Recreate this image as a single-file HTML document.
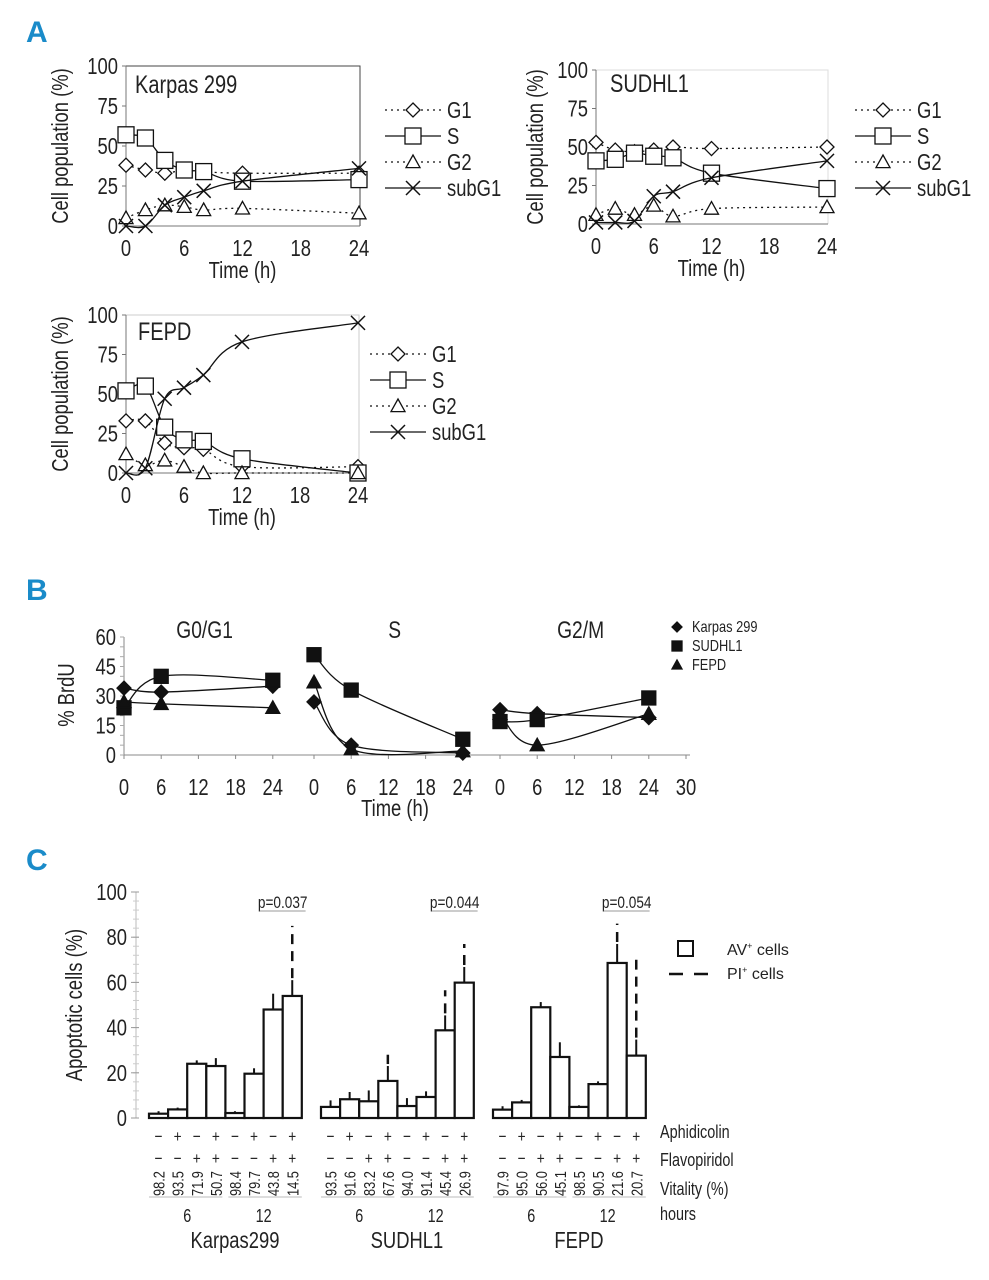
<!DOCTYPE html>
<html><head><meta charset="utf-8">
<style>
html,body{margin:0;padding:0;background:#fff;}
svg{display:block;font-family:"Liberation Sans Narrow","Liberation Sans",sans-serif;}
</style></head>
<body>
<svg id="fig" width="989" height="1280" viewBox="0 0 989 1280" xmlns="http://www.w3.org/2000/svg">
<g font-weight="bold" fill="#1a8bc9" font-size="30" font-family="Liberation Sans Narrow,Liberation Sans,sans-serif">
<text x="26" y="42">A</text>
<text x="26" y="600">B</text>
<text x="26" y="870">C</text>
</g>
<g id="gA"></g><g id="gB"></g><g id="gC"></g>
</svg>
<script>
// ---------- Panel A data ----------
const timeA=[0,2,4,6,8,12,24];
const tickA=[0,6,12,18,24];
const ytickA=[0,25,50,75,100];
const karpasG1=[38,35,33,35,34,33,33];
const karpasS=[57,55,41,35,34,28,29];
const karpasG2=[5,10,13,12,10,11,8];
const karpasSub=[0,0,13,18,22,28,36];
const sudG1=[53,48,47,48,50,49,50];
const sudS=[41,42,46,44,43,33,23];
const sudG2=[6,10,6,12,5,10,11];
const sudSub=[1,1,2,18,21,30,41];
const fepdG1=[33,33,19,16,15,4,4];
const fepdS=[52,55,29,21,20,9,0];
const fepdG2=[12,5,8,4,0,0,0];
const fepdSub=[0,3,47,54,62,83,95];
// ---------- Panel B data ----------
const timeB=[0,6,24];
const phasesB=['G0/G1','S','G2/M'];
const yticksB=[0,15,30,45,60];
const karpasB=[[34,32,35],[27,5,1],[23,21,19]];
const sudhlB=[[24,40,38],[51,33,8],[17,18,29]];
const fepdB=[[27,26,24],[37,3,2],[21,5,21]];
// ---------- Panel C data ----------
const groupsC=['Karpas299','SUDHL1','FEPD'];
const yticksC=[0,20,40,60,80,100];
const avKarpas=[1.9,3.8,24,23,2.2,19.6,48,54];
const avSud=[4.9,8.3,7.4,16.4,5.3,9.3,38.8,59.9];
const avFepd=[3.7,6.9,49,27,4.9,15,68.6,27.6];
const errKarpas=[3,4.6,25.5,26.5,3,22,55,61];
const errSud=[7.8,11.5,12.2,23,8.8,11.8,45.4,66.8];
const errFepd=[5.2,8,51.3,33.5,5.6,16.2,77,34.7];
const piKarpas=[null,null,null,null,null,null,null,85];
const piSud=[null,null,null,28,null,null,56.5,77];
const piFepd=[null,null,null,null,null,null,86,70];
const vitKarpas=['98.2','93.5','71.9','50.7','98.4','79.7','43.8','14.5'];
const vitSud=['93.5','91.6','83.2','67.6','94.0','91.4','45.4','26.9'];
const vitFepd=['97.9','95.0','56.0','45.1','98.5','90.5','21.6','20.7'];
const aphid=['−','+','−','+','−','+','−','+'];
const flavo=['−','−','+','+','−','−','+','+'];
const pvals=['p=0.037','p=0.044','p=0.054'];

const NS='http://www.w3.org/2000/svg';
function mk(parent,tag,attrs,text){const e=document.createElementNS(NS,tag);for(const k in attrs)e.setAttribute(k,attrs[k]);if(text!==undefined)e.textContent=text;parent.appendChild(e);return e;}
function smooth(p){if(p.length<2)return '';let d='M'+p[0][0]+','+p[0][1];for(let i=0;i<p.length-1;i++){const p0=p[i-1]||p[i],p1=p[i],p2=p[i+1],p3=p[i+2]||p2;const c1=[p1[0]+(p2[0]-p0[0])/6,p1[1]+(p2[1]-p0[1])/6];const c2=[p2[0]-(p3[0]-p1[0])/6,p2[1]-(p3[1]-p1[1])/6];d+=' C'+c1+' '+c2+' '+p2;}return d;}
function marker(g,type,x,y,filled,s){
  const f=filled?'#111':'#fff';let e;
  if(type==='diamond'){e=mk(g,'path',{d:`M${x},${y-s} L${x+s},${y} L${x},${y+s} L${x-s},${y} Z`,fill:f,stroke:'#111','stroke-width':1.3});}
  else if(type==='square'){e=mk(g,'rect',{x:x-s,y:y-s,width:2*s,height:2*s,fill:f,stroke:'#111','stroke-width':1.3});}
  else if(type==='triangle'){e=mk(g,'path',{d:`M${x},${y-s} L${x+s},${y+s*0.8} L${x-s},${y+s*0.8} Z`,fill:f,stroke:'#111','stroke-width':1.3});}
  else {e=mk(g,'path',{d:`M${x-s},${y-s} L${x+s},${y+s} M${x+s},${y-s} L${x-s},${y+s}`,stroke:'#111','stroke-width':1.5,fill:'none'});}
  return e;
}

// ---------- Panel A ----------
const gA=document.getElementById('gA');
function chartA(cfg){
  const g=mk(gA,'g',{});
  
  
  const X=t=>cfg.x0+(cfg.x24-cfg.x0)*t/24;
  const Y=v=>cfg.y0-(cfg.y0-cfg.y100)*v/100;
  mk(g,'path',{d:`M${cfg.x0},${cfg.y100} L${cfg.x24+1},${cfg.y100} L${cfg.x24+1},${cfg.y0}`,fill:'none',stroke:cfg.frame,'stroke-width':1});
  mk(g,'line',{x1:cfg.x0,y1:cfg.y100,x2:cfg.x0,y2:cfg.y0,stroke:'#777','stroke-width':1});
  mk(g,'line',{x1:cfg.x0,y1:cfg.y0,x2:cfg.x24+1,y2:cfg.y0,stroke:'#777','stroke-width':1});
  ytickA.forEach(v=>{const t=mk(g,'text',{x:cfg.x0-8,y:Y(v)+8,'text-anchor':'end','font-size':23,fill:'#222'},v);
    
    mk(g,'line',{x1:cfg.x0-4,x2:cfg.x0,y1:Y(v),y2:Y(v),stroke:'#777'});});
  tickA.forEach(v=>{const t=mk(g,'text',{x:X(v),y:cfg.y0+30,'text-anchor':'middle','font-size':23,fill:'#222'},v);
    });
  const xt=mk(g,'text',{x:(cfg.x0+cfg.x24)/2,y:cfg.y0+52,'text-anchor':'middle','font-size':23,fill:'#222'},'Time (h)');
  
  const cy=(cfg.y0+cfg.y100)/2;
  const yt=mk(g,'text',{x:cfg.ylx,y:cy,'text-anchor':'middle','font-size':23,fill:'#222',transform:`rotate(-90 ${cfg.ylx} ${cy})`},'Cell population (%)');
  
  const tt=mk(g,'text',{x:cfg.tx,y:cfg.ty,'font-size':25,fill:'#222'},cfg.title);
  
  const series=[['G1',cfg.g1,'diamond','2,4'],['S',cfg.s,'square',''],['G2',cfg.g2,'triangle','2,4'],['subG1',cfg.sub,'x','']];
  series.forEach((sr,i)=>{
    const sg=mk(g,'g',{});
    
    
    const pts=timeA.map((t,j)=>[X(t),Y(sr[1][j])]);
    mk(sg,'path',{d:smooth(pts),fill:'none',stroke:'#111','stroke-width':1.3,'stroke-dasharray':sr[3]});
    pts.forEach(p=>marker(sg,sr[2],p[0],p[1],false,sr[2]==='square'?8:7));
    const lg=mk(g,'g',{});
    
    
    const ly=cfg.ly+i*26;
    mk(lg,'line',{x1:cfg.lx,x2:cfg.lx+56,y1:ly,y2:ly,stroke:'#111','stroke-width':1.3,'stroke-dasharray':sr[3]});
    marker(lg,sr[2],cfg.lx+28,ly,false,sr[2]==='square'?8:7);
    mk(lg,'text',{x:cfg.lx+62,y:ly+8,'font-size':23,fill:'#222'},sr[0]);
  });
}
chartA({name:'karpas299',x0:126,x24:359,y0:226,y100:66,frame:'#444',ylx:68,tx:135,ty:93,title:'Karpas 299',g1:karpasG1,s:karpasS,g2:karpasG2,sub:karpasSub,lx:385,ly:110});
chartA({name:'sudhl1',x0:596,x24:827,y0:224,y100:70,frame:'#ddd',ylx:543,tx:610,ty:92,title:'SUDHL1',g1:sudG1,s:sudS,g2:sudG2,sub:sudSub,lx:855,ly:110});
chartA({name:'fepd',x0:126,x24:358,y0:473,y100:315,frame:'#ccc',ylx:68,tx:138,ty:340,title:'FEPD',g1:fepdG1,s:fepdS,g2:fepdG2,sub:fepdSub,lx:370,ly:354});

// ---------- Panel B ----------
const gB=document.getElementById('gB');
(function(){
  const y0=755,y60=637,starts=[124,314,500],k=6.2;
  const Y=v=>y0-(y0-y60)*v/60;
  const g=mk(gB,'g',{});
  
  
  mk(g,'line',{x1:124,x2:124,y1:y60,y2:y0,stroke:'#888'});
  mk(g,'line',{x1:124,x2:690,y1:y0,y2:y0,stroke:'#888'});
  for(let v=0;v<=60;v+=5)mk(g,'line',{x1:120,x2:124,y1:Y(v),y2:Y(v),stroke:'#aaa'});
  yticksB.forEach(v=>{const t=mk(g,'text',{x:116,y:Y(v)+8,'text-anchor':'end','font-size':23,fill:'#222'},v);
    });
  const xticks=[[0,6,12,18,24],[0,6,12,18,24],[0,6,12,18,24,30]];
  starts.forEach((s,i)=>{xticks[i].forEach(v=>{const x=s+k*v;mk(g,'line',{x1:x,x2:x,y1:y0,y2:y0+4,stroke:'#888'});
    const t=mk(g,'text',{x:x,y:795,'text-anchor':'middle','font-size':23,fill:'#222'},v);
    });
    const pt=mk(g,'text',{x:s+k*13,y:638,'text-anchor':'middle','font-size':24,fill:'#222'},phasesB[i]);
    });
  const yl=mk(g,'text',{x:74,y:695,'text-anchor':'middle','font-size':23,fill:'#222',transform:'rotate(-90 74 695)'},'% BrdU');
  
  const xl=mk(g,'text',{x:395,y:816,'text-anchor':'middle','font-size':23,fill:'#222'},'Time (h)');
  
  const ser=[['karpas-299',karpasB,'diamond'],['sudhl1',sudhlB,'square'],['fepd',fepdB,'triangle']];
  ser.forEach(sr=>{
    const sg=mk(g,'g',{});
    
    
    starts.forEach((s,i)=>{const pts=timeB.map((t,j)=>[s+k*t,Y(sr[1][i][j])]);
      mk(sg,'path',{d:smooth(pts),fill:'none',stroke:'#111','stroke-width':1.3});
      pts.forEach(p=>marker(sg,sr[2],p[0],p[1],true,7));});
  });
  const names=['Karpas 299','SUDHL1','FEPD'];
  ser.forEach((sr,i)=>{const lg=mk(g,'g',{});
    
    
    const y=627+i*19;marker(lg,sr[2],677,y,true,5);
    mk(lg,'text',{x:692,y:y+5,'font-size':16,fill:'#222'},names[i]);});
})();

// ---------- Panel C ----------
const gC=document.getElementById('gC');
(function(){
  const y0=1118,y100=892;const Y=v=>y0-(y0-y100)*v/100;
  const g=mk(gC,'g',{});
  
  
  mk(g,'line',{x1:136,x2:136,y1:y100,y2:y0,stroke:'#bbb'});
  for(let v=0;v<=100;v+=4)mk(g,'line',{x1:133,x2:139,y1:Y(v),y2:Y(v),stroke:'#ccc'});
  yticksC.forEach(v=>{mk(g,'line',{x1:131,x2:139,y1:Y(v),y2:Y(v),stroke:'#999'});
    const t=mk(g,'text',{x:127,y:Y(v)+8,'text-anchor':'end','font-size':23,fill:'#222'},v);
    });
  const yl=mk(g,'text',{x:82,y:1005,'text-anchor':'middle','font-size':23,fill:'#222',transform:'rotate(-90 82 1005)'},'Apoptotic cells (%)');
  
  const starts=[149,321,493],w=19.1;
  const av=[avKarpas,avSud,avFepd],er=[errKarpas,errSud,errFepd],pi=[piKarpas,piSud,piFepd],vit=[vitKarpas,vitSud,vitFepd];
  groupsC.forEach((name,gi)=>{
    const s=starts[gi];
    const gg=mk(g,'g',{});
    
    
    av[gi].forEach((v,i)=>{
      const x=s+i*w,cx=x+w/2;
      const b=mk(gg,'rect',{x:x,y:Y(v),width:w,height:y0-Y(v),fill:'#fff',stroke:'#111','stroke-width':2.2});
      
      mk(gg,'line',{x1:cx,x2:cx,y1:Y(v),y2:Y(er[gi][i]),stroke:'#111','stroke-width':2});
      if(pi[gi][i]!==null){const pl=mk(gg,'line',{x1:cx,x2:cx,y1:Y(er[gi][i])-2,y2:Y(pi[gi][i]),stroke:'#111','stroke-width':2.5,'stroke-dasharray':'10,7'});
        }
      mk(gg,'text',{x:cx,y:1142,'text-anchor':'middle','font-size':17,fill:'#222'},aphid[i]);
      mk(gg,'text',{x:cx,y:1164,'text-anchor':'middle','font-size':17,fill:'#222'},flavo[i]);
      mk(gg,'text',{x:cx+6,y:1196,'font-size':16,fill:'#222',transform:`rotate(-90 ${cx+6} 1196)`},vit[gi][i]);
    });
    mk(gg,'line',{x1:s,x2:s+4*w-3,y1:1197,y2:1197,stroke:'#bbb'});
    mk(gg,'line',{x1:s+4*w+3,x2:s+8*w,y1:1197,y2:1197,stroke:'#bbb'});
    mk(gg,'text',{x:s+2*w,y:1222,'text-anchor':'middle','font-size':18,fill:'#222'},'6');
    mk(gg,'text',{x:s+6*w,y:1222,'text-anchor':'middle','font-size':18,fill:'#222'},'12');
    const lab=mk(gg,'text',{x:s+4.5*w,y:1248,'text-anchor':'middle','font-size':23,fill:'#222'},name);
    
    const pv=mk(gg,'text',{x:s+7*w,y:908,'text-anchor':'middle','font-size':17,fill:'#222'},pvals[gi]);
    
    mk(gg,'line',{x1:s+5.8*w,x2:s+8.2*w,y1:911,y2:911,stroke:'#999'});
  });
  const rl=[['Aphidicolin',1138],['Flavopiridol',1166],['Vitality (%)',1195],['hours',1220]];
  rl.forEach(r=>{const t=mk(g,'text',{x:660,y:r[1],'font-size':18,fill:'#222'},r[0]);
    });
  const l1=mk(g,'g',{});
  
  mk(l1,'rect',{x:678,y:941,width:15,height:15,fill:'#fff',stroke:'#111','stroke-width':2});
  const t1=mk(l1,'text',{x:727,y:955,'font-size':16,fill:'#222'},'AV');
  mk(t1,'tspan',{'font-size':9,dy:-6},'+');mk(t1,'tspan',{dy:6},' cells');
  const l2=mk(g,'g',{});
  
  mk(l2,'line',{x1:669,x2:708,y1:974,y2:974,stroke:'#111','stroke-width':2.5,'stroke-dasharray':'14,11'});
  const t2=mk(l2,'text',{x:727,y:979,'font-size':16,fill:'#222'},'PI');
  mk(t2,'tspan',{'font-size':9,dy:-6},'+');mk(t2,'tspan',{dy:6},' cells');
})();

// condense text to mimic a narrow typeface
document.querySelectorAll('#gA text, #gB text, #gC text').forEach(t=>{
  if(t.querySelector('tspan'))return;
  try{const L=t.getComputedTextLength();if(L>0){t.setAttribute('textLength',(L*0.8).toFixed(1));t.setAttribute('lengthAdjust','spacingAndGlyphs');}}catch(e){}
});
</script>
</body></html>
